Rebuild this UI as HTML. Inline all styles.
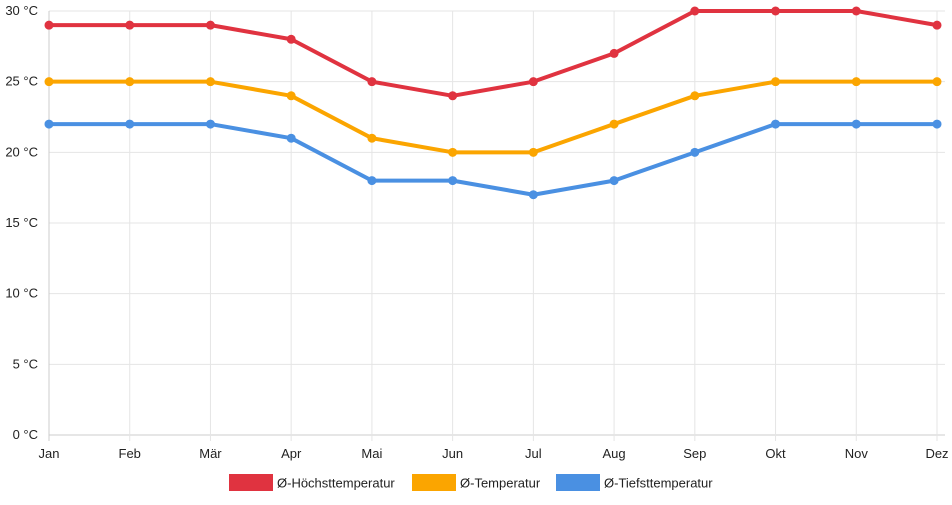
<!DOCTYPE html>
<html><head><meta charset="utf-8"><style>
body{margin:0;background:#fff;font-family:"Liberation Sans",sans-serif}
svg text{font-family:"Liberation Sans",sans-serif;font-size:13px;fill:#222}
</style></head><body>
<svg id="c" width="952" height="500"></svg>
<script>
const months=["Jan","Feb","Mär","Apr","Mai","Jun","Jul","Aug","Sep","Okt","Nov","Dez"];
const highs=[29,29,29,28,25,24,25,27,30,30,30,29];
const avgs=[25,25,25,24,21,20,20,22,24,25,25,25];
const lows=[22,22,22,21,18,18,17,18,20,22,22,22];
const yTicks=[0,5,10,15,20,25,30];
const seriesNames=["Ø-Höchsttemperatur","Ø-Temperatur","Ø-Tiefsttemperatur"];
const colors=["#e03340","#fba500","#4a90e2"];
const NS="http://www.w3.org/2000/svg",svg=document.getElementById('c');
const x0=49,x1=937,y0=435,y1=11;
const xs=i=>x0+(x1-x0)*i/(months.length-1);
const ys=v=>y0-(y0-y1)*v/30;
function el(t,a,p){const e=document.createElementNS(NS,t);for(const k in a)e.setAttribute(k,a[k]);(p||svg).appendChild(e);return e;}
const grid=el('g',{});


yTicks.forEach(v=>{
  el('line',{x1:x0,x2:x1+8,y1:ys(v),y2:ys(v),stroke:v===0?'#ccc':'#e5e5e5'},grid);
  const t=el('text',{x:38,y:ys(v)+4,'text-anchor':'end'});
  t.textContent=v+' °C';
  
  
});
months.forEach((m,i)=>{
  el('line',{x1:xs(i),x2:xs(i),y1:y1,y2:y0+6,stroke:i===0?'#ccc':'#e5e5e5'},grid);
  const t=el('text',{x:xs(i),y:458,'text-anchor':'middle'});
  t.textContent=m;
  
  
});
[highs,avgs,lows].forEach((d,s)=>{
  const g=el('g',{});
  
  
  el('polyline',{points:d.map((v,i)=>xs(i)+','+ys(v)).join(' '),fill:'none',stroke:colors[s],'stroke-width':4,'stroke-linejoin':'round'},g);
  d.forEach((v,i)=>{const c=el('circle',{cx:xs(i),cy:ys(v),r:4.5,fill:colors[s]},g);
    
    });
});
const lx=[229,412,556];
seriesNames.forEach((n,s)=>{
  const g=el('g',{});
  
  
  el('rect',{x:lx[s],y:474,width:44,height:17,fill:colors[s]},g);
  const t=el('text',{x:lx[s]+48,y:487.5,'font-size':'14'},g);t.textContent=n;
});
</script>
</body></html>
